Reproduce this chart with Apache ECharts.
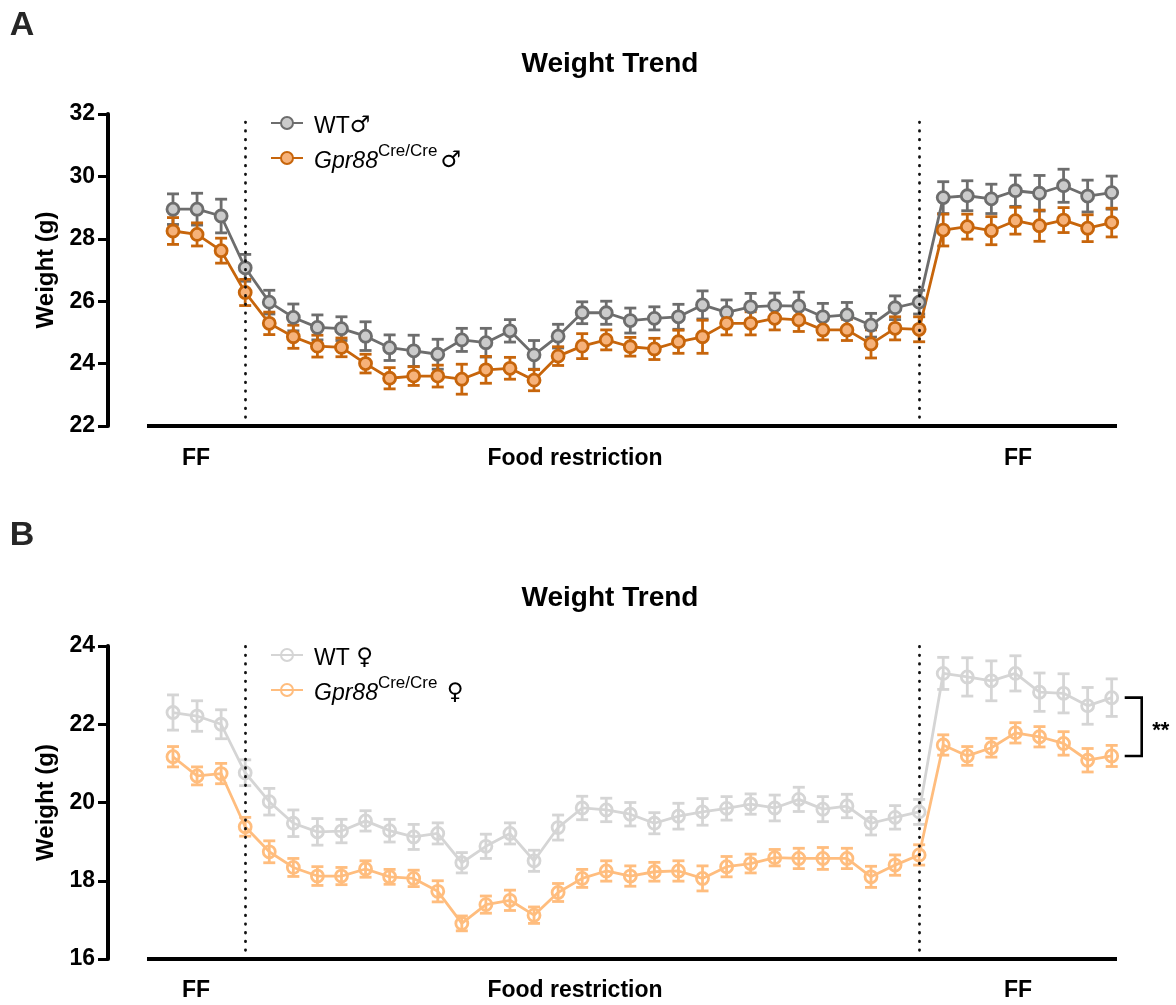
<!DOCTYPE html>
<html>
<head>
<meta charset="utf-8">
<title>Weight Trend</title>
<script src="https://cdn.jsdelivr.net/npm/echarts@6/dist/echarts.min.js"></script>
<style>
  html, body { margin: 0; padding: 0; background: #fff; }
  #main { width: 1176px; height: 1005px; }
</style>
</head>
<body>
<div id="main"></div>
<script>
// day index along the protocol (FF 1-3, food restriction 4-32, FF 33-40)
const days = [1, 2, 3, 4, 5, 6, 7, 8, 9, 10, 11, 12, 13, 14, 15, 16, 17, 18, 19, 20,
  21, 22, 23, 24, 25, 26, 27, 28, 29, 30, 31, 32, 33, 34, 35, 36, 37, 38, 39, 40]
const restrictStart = 4
const refeedStart = 32

// A - males
const wtMale = [28.95, 28.95, 28.73, 27.07, 25.97, 25.48, 25.16, 25.12, 24.88, 24.51,
  24.41, 24.30, 24.76, 24.67, 25.05, 24.28, 24.88, 25.63, 25.63, 25.38,
  25.45, 25.50, 25.88, 25.64, 25.82, 25.86, 25.84, 25.50, 25.56, 25.23,
  25.79, 25.97, 29.32, 29.38, 29.28, 29.54, 29.46, 29.70, 29.37, 29.48]
const wtMaleSem = [0.49, 0.51, 0.54, 0.43, 0.38, 0.43, 0.40, 0.38, 0.46, 0.41,
  0.50, 0.48, 0.37, 0.46, 0.36, 0.46, 0.38, 0.35, 0.37, 0.40,
  0.37, 0.40, 0.45, 0.40, 0.43, 0.40, 0.45, 0.43, 0.40, 0.38,
  0.38, 0.38, 0.51, 0.48, 0.47, 0.50, 0.57, 0.53, 0.51, 0.53]
const koMale = [28.25, 28.14, 27.62, 26.28, 25.29, 24.86, 24.56, 24.52, 24.00, 23.53,
  23.60, 23.60, 23.50, 23.80, 23.85, 23.47, 24.24, 24.56, 24.76, 24.54,
  24.47, 24.70, 24.86, 25.29, 25.29, 25.45, 25.40, 25.08, 25.08, 24.63,
  25.13, 25.10, 28.28, 28.39, 28.26, 28.58, 28.42, 28.60, 28.34, 28.52]
const koMaleSem = [0.43, 0.37, 0.40, 0.42, 0.36, 0.37, 0.35, 0.30, 0.30, 0.34,
  0.30, 0.35, 0.48, 0.43, 0.35, 0.34, 0.30, 0.40, 0.32, 0.30,
  0.34, 0.37, 0.53, 0.37, 0.37, 0.37, 0.37, 0.32, 0.34, 0.45,
  0.37, 0.40, 0.51, 0.40, 0.45, 0.43, 0.50, 0.40, 0.43, 0.46]

// B - females
const wtFemale = [22.30, 22.21, 22.00, 20.76, 20.02, 19.47, 19.25, 19.27, 19.53, 19.28,
  19.12, 19.21, 18.46, 18.88, 19.21, 18.51, 19.36, 19.86, 19.81, 19.70,
  19.47, 19.65, 19.76, 19.85, 19.96, 19.86, 20.08, 19.83, 19.91, 19.47,
  19.62, 19.76, 23.30, 23.21, 23.11, 23.30, 22.82, 22.79, 22.47, 22.68]
const wtFemaleSem = [0.45, 0.39, 0.37, 0.33, 0.34, 0.34, 0.34, 0.30, 0.26, 0.29,
  0.32, 0.27, 0.26, 0.31, 0.27, 0.27, 0.32, 0.30, 0.30, 0.30,
  0.27, 0.33, 0.34, 0.30, 0.26, 0.33, 0.31, 0.32, 0.30, 0.30,
  0.30, 0.32, 0.41, 0.49, 0.51, 0.45, 0.49, 0.50, 0.47, 0.48]
const koFemale = [21.17, 20.68, 20.74, 19.38, 18.74, 18.34, 18.12, 18.12, 18.30, 18.10,
  18.06, 17.73, 16.91, 17.39, 17.50, 17.12, 17.70, 18.06, 18.25, 18.12,
  18.23, 18.25, 18.06, 18.36, 18.44, 18.59, 18.57, 18.57, 18.57, 18.10,
  18.40, 18.66, 21.47, 21.19, 21.40, 21.78, 21.68, 21.51, 21.08, 21.19]
const koFemaleSem = [0.26, 0.23, 0.26, 0.24, 0.28, 0.23, 0.24, 0.22, 0.21, 0.19,
  0.21, 0.27, 0.19, 0.22, 0.26, 0.21, 0.23, 0.23, 0.26, 0.26,
  0.24, 0.26, 0.32, 0.26, 0.24, 0.21, 0.26, 0.28, 0.26, 0.27,
  0.26, 0.26, 0.26, 0.24, 0.24, 0.26, 0.26, 0.30, 0.30, 0.27]

const yTicksA = [22, 32, 2]
const yTicksB = [16, 24, 2]

// x range of the visible plot; the baseline starts a little right of the y axis
const xMin = -1.70
const xMax = 40.22
const baseStart = -0.08

const FONT = '"Liberation Sans", Arial, sans-serif'

function pairs (ys, sem) {
  return days.map((d, i) => sem ? [d, ys[i], sem[i]] : [d, ys[i]])
}

function errRender (params, api) {
  let x = api.value(0)
  let y = api.value(1)
  let e = api.value(2)
  let top = api.coord([x, y + e])
  let bot = api.coord([x, y - e])
  let w = 6
  let style = { stroke: api.visual('color'), lineWidth: 2.8, fill: null }
  return {
    type: 'group',
    children: [
      { type: 'line', shape: { x1: top[0], y1: top[1], x2: bot[0], y2: bot[1] }, style: style },
      { type: 'line', shape: { x1: top[0] - w, y1: top[1], x2: top[0] + w, y2: top[1] }, style: style },
      { type: 'line', shape: { x1: bot[0] - w, y1: bot[1], x2: bot[0] + w, y2: bot[1] }, style: style }
    ]
  }
}

function lineSeries (name, idx, ys, stroke, fill, yMin) {
  let s = {
    name: name,
    type: 'line',
    xAxisIndex: idx,
    yAxisIndex: idx,
    data: pairs(ys),
    symbol: 'circle',
    symbolSize: 12,
    z: 3,
    lineStyle: { color: stroke, width: 2.8 },
    itemStyle: { color: fill, borderColor: stroke, borderWidth: 2.8 },
    emphasis: { disabled: true }
  }
  if (yMin != null) {
    s.markLine = {
      silent: true,
      symbol: 'none',
      label: { show: false },
      lineStyle: { color: '#111', type: [0.5, 8.17], width: 2.8, cap: 'round' },
      data: [
        { xAxis: restrictStart },
        { xAxis: refeedStart },
        [
          { coord: [baseStart, yMin], lineStyle: { type: 'solid', width: 4, color: '#000', cap: 'butt' } },
          { coord: [xMax, yMin] }
        ]
      ]
    }
  }
  return s
}

function errSeries (idx, ys, sem, stroke) {
  return {
    type: 'custom',
    xAxisIndex: idx,
    yAxisIndex: idx,
    z: 2,
    silent: true,
    itemStyle: { color: stroke },
    encode: { x: 0, y: 1 },
    data: pairs(ys, sem),
    renderItem: errRender
  }
}

function yAxisOf (idx, ticks) {
  return {
    type: 'value',
    gridIndex: idx,
    min: ticks[0],
    max: ticks[1],
    interval: ticks[2],
    name: 'Weight (g)',
    nameLocation: 'middle',
    nameGap: 50,
    nameTextStyle: { fontFamily: FONT, fontWeight: 'bold', fontSize: 24, color: '#000' },
    axisLine: { show: true, onZero: false, lineStyle: { color: '#000', width: 4 } },
    axisTick: { show: true, length: 10, lineStyle: { color: '#000', width: 3 } },
    axisLabel: { fontFamily: FONT, fontWeight: 'bold', fontSize: 23, color: '#000', margin: 13 },
    splitLine: { show: false }
  }
}

function xAxisOf (idx) {
  return {
    type: 'value',
    gridIndex: idx,
    min: xMin,
    max: xMax,
    axisLine: { show: false, onZero: false },
    axisTick: { show: false },
    axisLabel: { show: false },
    splitLine: { show: false }
  }
}

function legendItem (name, top) {
  return {
    data: [name],
    left: 265,
    top: top,
    itemWidth: 32,
    itemHeight: 15,
    selectedMode: false,
    formatter: function (n) {
      let sex = n.slice(-1)
      let gap = n.indexOf(' ') > 0 ? ' ' : ''
      if (n.indexOf('Gpr88') === 0) {
        return '{i|Gpr88}{s|Cre/Cre}{n|' + gap + '}{g|' + sex + '}'
      }
      return '{n|WT' + gap + '}{g|' + sex + '}'
    },
    textStyle: {
      fontFamily: FONT,
      fontSize: 23,
      color: '#000',
      padding: [0, 0, 0, 6],
      rich: {
        i: { fontFamily: FONT, fontSize: 23, fontStyle: 'italic', color: '#000', verticalAlign: 'bottom', lineHeight: 30 },
        s: { fontFamily: FONT, fontSize: 17, color: '#000', verticalAlign: 'top', lineHeight: 30, padding: [0, 3, 0, 0] },
        n: { fontFamily: FONT, fontSize: 23, color: '#000', verticalAlign: 'bottom', lineHeight: 30 },
        g: { fontFamily: '"DejaVu Sans", sans-serif', fontSize: 23, color: '#000', verticalAlign: 'bottom', lineHeight: 30 }
      }
    }
  }
}

function txt (id, text, x, y, size, fill) {
  return {
    type: 'text',
    id: id,
    x: x,
    y: y,
    silent: true,
    style: {
      text: text,
      font: 'bold ' + size + 'px ' + FONT,
      fill: fill || '#000',
      align: 'center',
      verticalAlign: 'middle'
    }
  }
}

let chartDom = document.getElementById('main')
let myChart = echarts.init(chartDom, null, { renderer: 'canvas' })

let graphics = [
  txt('lblA', 'A', 22, 26, 34, '#262626'),
  txt('lblB', 'B', 22, 536, 34, '#262626'),
  txt('titleA', 'Weight Trend', 610, 64, 28),
  txt('titleB', 'Weight Trend', 610, 598, 28),
  txt('ffA1', 'FF', 196, 459, 23),
  txt('frA', 'Food restriction', 575, 459, 23),
  txt('ffA2', 'FF', 1018, 459, 23),
  txt('ffB1', 'FF', 196, 991, 23),
  txt('frB', 'Food restriction', 575, 991, 23),
  txt('ffB2', 'FF', 1018, 991, 23)
]

let option = {
  animation: false,
  backgroundColor: '#fff',
  grid: [
    { left: 108, right: 59, top: 114, height: 312 },
    { left: 108, right: 59, top: 646, height: 313 }
  ],
  xAxis: [xAxisOf(0), xAxisOf(1)],
  yAxis: [yAxisOf(0, yTicksA), yAxisOf(1, yTicksB)],
  legend: [
    legendItem('WT♂', 110),
    legendItem('Gpr88♂', 138),
    legendItem('WT ♀', 642),
    legendItem('Gpr88 ♀', 670)
  ],
  graphic: graphics,
  series: [
    errSeries(0, wtMale, wtMaleSem, '#6d6d6d'),
    errSeries(0, koMale, koMaleSem, '#c7650b'),
    lineSeries('WT♂', 0, wtMale, '#6d6d6d', '#cbcbcb', yTicksA[0]),
    lineSeries('Gpr88♂', 0, koMale, '#c7650b', '#f6b27a', null),
    errSeries(1, wtFemale, wtFemaleSem, '#d5d5d5'),
    errSeries(1, koFemale, koFemaleSem, '#ffbd7e'),
    lineSeries('WT ♀', 1, wtFemale, '#d5d5d5', 'rgba(255,255,255,0)', yTicksB[0]),
    lineSeries('Gpr88 ♀', 1, koFemale, '#ffbd7e', 'rgba(255,255,255,0)', null)
  ]
}
myChart.setOption(option)

// significance bracket between the last refeeding points of panel B
let last = days.length - 1
let xb = myChart.convertToPixel({ xAxisIndex: 1 }, days[last])
let yTop = myChart.convertToPixel({ yAxisIndex: 1 }, wtFemale[last])
let yBot = myChart.convertToPixel({ yAxisIndex: 1 }, koFemale[last])
myChart.setOption({
  graphic: graphics.concat([
    {
      type: 'polyline',
      id: 'bracket',
      silent: true,
      shape: { points: [[xb + 13, yTop], [xb + 30, yTop], [xb + 30, yBot], [xb + 13, yBot]] },
      style: { stroke: '#000', lineWidth: 2.6, fill: null }
    },
    txt('stars', '**', xb + 49, (yTop + yBot) / 2 + 4, 22)
  ])
})
window.addEventListener('resize', () => myChart.resize())
</script>
</body>
</html>
